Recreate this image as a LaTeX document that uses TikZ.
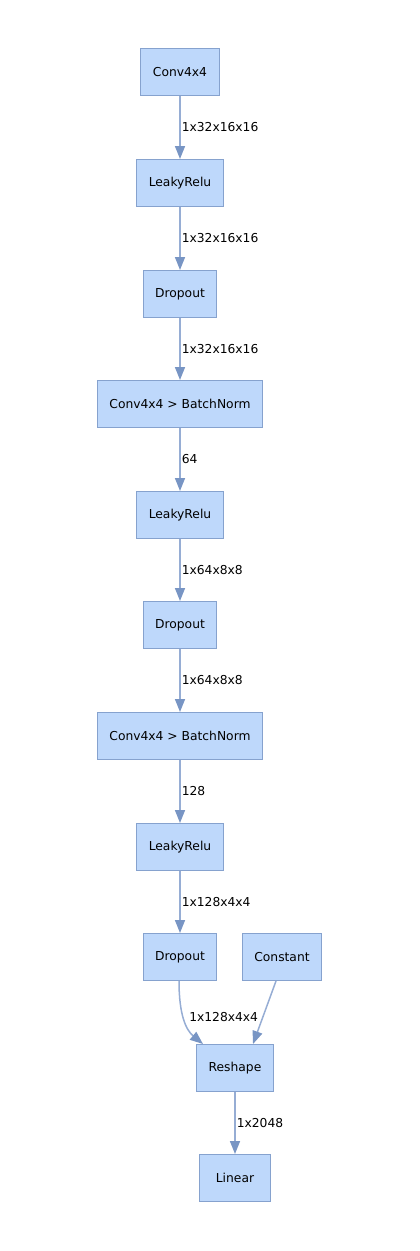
\documentclass[tikz,border=0pt]{standalone}
\usepackage{fontspec}
\setmainfont{DejaVu Sans}
\usetikzlibrary{arrows.meta}
\definecolor{boxfill}{RGB}{190,216,251}
\definecolor{boxline}{RGB}{134,162,206}
\definecolor{edgeline}{RGB}{150,173,212}
\definecolor{edgetip}{RGB}{120,149,196}
\tikzset{
  layer/.style={draw=boxline,fill=boxfill,line width=1pt,minimum height=47pt,minimum width=71pt,inner xsep=12pt,font=\fontsize{12.3}{14}\selectfont},
  flow/.style={draw=edgeline,line width=1.5pt,-{Triangle[length=13pt,width=10pt,color=edgetip]}},
  dimlabel/.style={right,inner sep=1pt,font=\fontsize{12.3}{14}\selectfont}
}
\begin{document}
\begin{tikzpicture}[x=1pt,y=-1pt]
%\draw[step=50,gray,very thin] (0,0) grid (420,1251);
\useasboundingbox (0,0) rectangle (420,1251);
\node[layer] (conv1) at (180,72) {Conv4x4};
\node[layer] (relu1) at (180,183) {LeakyRelu};
\node[layer] (drop1) at (180,294) {Dropout};
\node[layer] (conv2) at (180,404) {Conv4x4 > BatchNorm};
\node[layer] (relu2) at (180,515) {LeakyRelu};
\node[layer] (drop2) at (180,625) {Dropout};
\node[layer] (conv3) at (180,736) {Conv4x4 > BatchNorm};
\node[layer] (relu3) at (180,847) {LeakyRelu};
\node[layer] (drop3) at (180,957) {Dropout};
\node[layer] (const) at (282,957) {Constant};
\node[layer] (reshape) at (235,1068) {Reshape};
\node[layer] (linear) at (235,1178) {Linear};
\draw[flow] (conv1) -- node[dimlabel] {1x32x16x16} (relu1);
\draw[flow] (relu1) -- node[dimlabel] {1x32x16x16} (drop1);
\draw[flow] (drop1) -- node[dimlabel] {1x32x16x16} (conv2);
\draw[flow] (conv2) -- node[dimlabel] {64} (relu2);
\draw[flow] (relu2) -- node[dimlabel] {1x64x8x8} (drop2);
\draw[flow] (drop2) -- node[dimlabel] {1x64x8x8} (conv3);
\draw[flow] (conv3) -- node[dimlabel] {128} (relu3);
\draw[flow] (relu3) -- node[dimlabel] {1x128x4x4} (drop3);
\draw[flow] ([xshift=-1pt]drop3.south) .. controls (179,1015) and (186,1030) .. node[dimlabel,pos=0.45,xshift=4pt] {1x128x4x4} ([xshift=-32pt]reshape.north);
\draw[flow] ([xshift=-6pt]const.south) -- ([xshift=18pt]reshape.north);
\draw[flow] (reshape) -- node[dimlabel] {1x2048} (linear);
\end{tikzpicture}
\end{document}
